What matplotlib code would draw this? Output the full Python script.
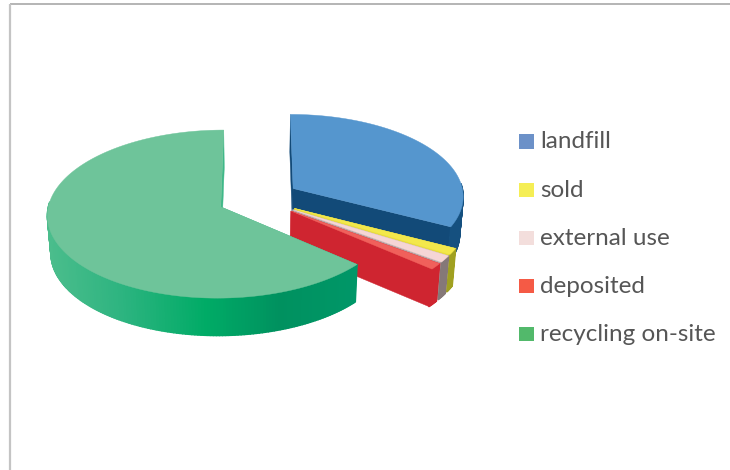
import numpy as np
import matplotlib
matplotlib.use("Agg")
import matplotlib.pyplot as plt
from matplotlib.collections import PolyCollection
from matplotlib.colors import to_rgb
from matplotlib.patches import Rectangle, Polygon

# Share of each waste stream, percent, in clockwise order from twelve o'clock
categories = ["landfill", "sold", "external use", "deposited", "recycling on-site"]
shares = [32.6, 1.2, 1.3, 1.2, 63.7]

legend_colors = ["#6C91C8", "#F5EE55", "#F3DEDC", "#F55A45", "#52B96B"]
top_colors = ["#5596CE", "#F3E84B", "#F5D5D5", "#F0605B", "#6EC49A"]
cut_colors = ["#124A78", "#E8DC40", "#B8A8A8", "#CF2530", "#3FB888"]
rim_colors = ["#15507F", "#A0A020", "#857878", "#CF2530", None]

# Rim shading of the large slice runs dark to the right
rim_x = [47, 120, 205, 280, 357]
rim_shade = ["#4BBD8C", "#2DB480", "#00AB66", "#00915F", "#009768"]

# Projection of the pie plane onto the page
CX, CY = 258.4, 198.6
KX, KY = 171.0, 82.0
TILT = 0.085
EXPLODE = 0.24
DEPTH = 37.5
CONVERGE_X = 255.0
CONVERGE = 0.017


def project(px, py):
    d = 1 + TILT * py
    return CX + KX * px / d, CY - KY * py / d


def drop(x, y):
    """Lower a point on the top face to the base of the extruded slice."""
    return x + CONVERGE * (CONVERGE_X - x), y + DEPTH


def slice_rim(a0, a1, n):
    mid = (a0 + a1) / 2
    ox, oy = EXPLODE * np.sin(mid), EXPLODE * np.cos(mid)
    th = np.linspace(a0, a1, n)
    xs, ys = project(ox + np.sin(th), oy + np.cos(th))
    ax_, ay_ = project(ox, oy)
    return th, xs, ys, ax_, ay_


fig = plt.figure(figsize=(7.3, 4.7), dpi=100, facecolor="white")
ax = fig.add_axes([0, 0, 1, 1])
ax.set_xlim(0, 730)
ax.set_ylim(470, 0)
ax.axis("off")

# Chart frame: only the top and left borders fall inside the canvas
ax.plot([9.5, 730], [4, 4], color="#A8A8A8", lw=1.2, solid_capstyle="butt")
ax.plot([9.5, 9.5], [4, 470], color="#C4C4C4", lw=1.6, solid_capstyle="butt")

edges = np.concatenate([[0], np.cumsum(shares)]) / np.sum(shares) * 2 * np.pi

# Painter's order: the large slice goes last because it sits in front
for i in range(len(shares)):
    a0, a1 = edges[i], edges[i + 1]
    n_top = max(int((a1 - a0) * 120), 6)
    th, xs, ys, ax0, ay0 = slice_rim(a0, a1, n_top)
    bx, by = drop(xs, ys)
    bax, bay = drop(ax0, ay0)
    z = 2 + i * 3

    # Straight cut faces on both sides of the wedge
    ax.add_patch(Polygon([(ax0, ay0), (xs[0], ys[0]), (bx[0], by[0]), (bax, bay)],
                         closed=True, fc=cut_colors[i], ec=cut_colors[i], lw=0.3, zorder=z))
    ax.add_patch(Polygon([(ax0, ay0), (xs[-1], ys[-1]), (bx[-1], by[-1]), (bax, bay)],
                         closed=True, fc=cut_colors[i], ec=cut_colors[i], lw=0.3, zorder=z))

    # Outer rim as narrow quads carrying a shade along x; the far half is hidden
    step = 2 if n_top > 30 else 1
    quads, cols = [], []
    for j in range(0, n_top - 1, step):
        k = min(j + step, n_top - 1)
        if np.cos((th[j] + th[k]) / 2) > 0.06:
            continue
        quads.append([(xs[j], ys[j]), (xs[k], ys[k]), (bx[k], by[k]), (bx[j], by[j])])
        xm = (xs[j] + xs[k]) / 2
        if rim_colors[i] is None:
            c = [np.interp(xm, rim_x, [to_rgb(s)[m] for s in rim_shade]) for m in range(3)]
        else:
            c = to_rgb(rim_colors[i])
        cols.append(c)
    ax.add_collection(PolyCollection(quads, facecolors=cols, edgecolors=cols, linewidths=1.0, zorder=z + 1))

    # Top face
    ax.add_patch(Polygon(np.column_stack([np.r_[ax0, xs], np.r_[ay0, ys]]),
                         closed=True, fc=top_colors[i], ec=top_colors[i], lw=0.3, zorder=z + 2))

# Legend column on the right
legend_y = [142, 190.5, 238.5, 286.5, 334.5]
for name, col, y in zip(categories, legend_colors, legend_y):
    ax.add_patch(Rectangle((519, y - 7.9), 15, 14.8, fc=col, ec="none", zorder=30))
    ax.text(540, y, name, family="Lato", fontsize=17.5, color="#565656", va="center", ha="left", zorder=30)

fig.savefig("out.png", dpi=100)
